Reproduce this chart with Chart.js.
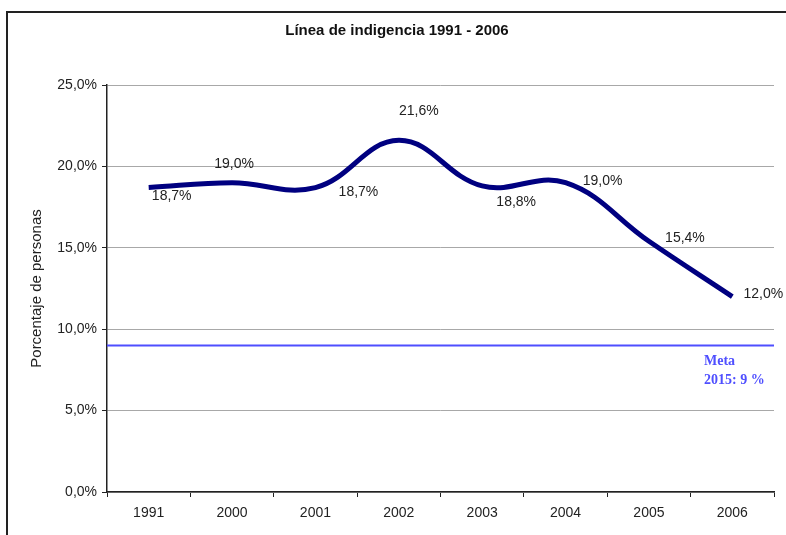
<!DOCTYPE html>
<html>
<head>
<meta charset="utf-8">
<script src="https://cdn.jsdelivr.net/npm/chart.js@4.4.1/dist/chart.umd.min.js"></script>
<style>
  html, body { margin: 0; padding: 0; background: #fff; }
  #wrap { width: 786px; height: 535px; }
</style>
</head>
<body>
<div id="wrap"><canvas id="myChart" width="786" height="535"></canvas></div>
<script>
const years = ['1991', '2000', '2001', '2002', '2003', '2004', '2005', '2006'];
const indigencia = [18.7, 19.0, 18.7, 21.6, 18.8, 19.0, 15.4, 12.0];
const metaValue = 9;
const metaText = ['Meta', '2015: 9 %'];
const yTicks = [0, 5, 10, 15, 20, 25];

// where Excel put each data label, relative to its point (px)
const labelShift = [[23, 9], [2, -19], [43, 5], [20, -29], [34, 16], [37, -2], [36, -3], [31, -2]];

const fmt = (v) => v.toFixed(1).replace('.', ',') + '%';

const framePlugin = {
    id: 'frame',
    beforeDraw(chart) {
        const ctx = chart.ctx;
        ctx.save();
        ctx.strokeStyle = '#222';
        ctx.lineWidth = 2;
        ctx.strokeRect(7, 12, 900, 900);
        ctx.restore();
    }
};

const metaPlugin = {
    id: 'metaLine',
    afterDatasetsDraw(chart) {
        const {ctx, chartArea, scales} = chart;
        const y = scales.y.getPixelForValue(metaValue);
        ctx.save();
        ctx.strokeStyle = '#4f4fff';
        ctx.lineWidth = 2;
        ctx.beginPath();
        ctx.moveTo(chartArea.left, y);
        ctx.lineTo(chartArea.right, y);
        ctx.stroke();
        ctx.fillStyle = '#4f4fff';
        ctx.font = 'bold 14px "Liberation Serif", "DejaVu Serif", serif';
        ctx.textBaseline = 'middle';
        ctx.textAlign = 'left';
        ctx.fillText(metaText[0], chartArea.right - 70, y + 16);
        ctx.fillText(metaText[1], chartArea.right - 70, y + 35);
        ctx.restore();
    }
};

const valueLabelPlugin = {
    id: 'valueLabels',
    afterDatasetsDraw(chart) {
        const ctx = chart.ctx;
        const meta = chart.getDatasetMeta(0);
        ctx.save();
        ctx.fillStyle = '#222';
        ctx.font = '14px "Liberation Sans", Arial, sans-serif';
        ctx.textAlign = 'center';
        ctx.textBaseline = 'middle';
        meta.data.forEach((pt, i) => {
            const s = labelShift[i];
            ctx.fillText(fmt(indigencia[i]), pt.x + s[0], pt.y + s[1]);
        });
        ctx.restore();
    }
};

const element = document.getElementById('myChart');

new Chart(element, {
    type: 'line',
    data: {
        labels: years,
        datasets: [{
            label: 'Línea de indigencia',
            data: indigencia,
            borderColor: '#000080',
            borderWidth: 5,
            pointRadius: 0,
            tension: 0.4,
            fill: false
        }]
    },
    options: {
        responsive: false,
        animation: false,
        layout: {
            padding: {left: 20, right: 12, top: 0, bottom: 0}
        },
        scales: {
            x: {
                offset: true,
                grid: {
                    offset: true,
                    drawOnChartArea: false,
                    tickLength: 5,
                    tickColor: '#222'
                },
                border: {color: '#222', width: 1.5},
                ticks: {
                    color: '#222',
                    padding: 8,
                    maxRotation: 0,
                    font: {family: '"Liberation Sans", Arial, sans-serif', size: 14}
                },
                afterFit(scale) {
                    scale.height = 43;
                }
            },
            y: {
                min: 0,
                max: 25,
                afterBuildTicks(scale) {
                    scale.ticks = yTicks.map(v => ({value: v}));
                },
                grid: {
                    color: '#a8a8a8',
                    lineWidth: 1,
                    tickLength: 5,
                    tickColor: '#222'
                },
                border: {color: '#222', width: 1.5},
                ticks: {
                    color: '#222',
                    padding: 5,
                    font: {family: '"Liberation Sans", Arial, sans-serif', size: 14},
                    callback: (v) => fmt(v)
                },
                title: {
                    display: true,
                    text: 'Porcentaje de personas',
                    color: '#222',
                    padding: {top: 8, bottom: 0},
                    font: {family: '"Liberation Sans", Arial, sans-serif', size: 15}
                },
                afterFit(scale) {
                    scale.width = 87;
                }
            }
        },
        plugins: {
            legend: {display: false},
            tooltip: {enabled: false},
            title: {
                display: true,
                text: 'Línea de indigencia 1991 - 2006',
                color: '#111',
                font: {family: '"Liberation Sans", Arial, sans-serif', size: 15, weight: 'bold'},
                padding: {top: 22, bottom: 45}
            }
        }
    },
    plugins: [framePlugin, metaPlugin, valueLabelPlugin]
});
</script>
</body>
</html>
